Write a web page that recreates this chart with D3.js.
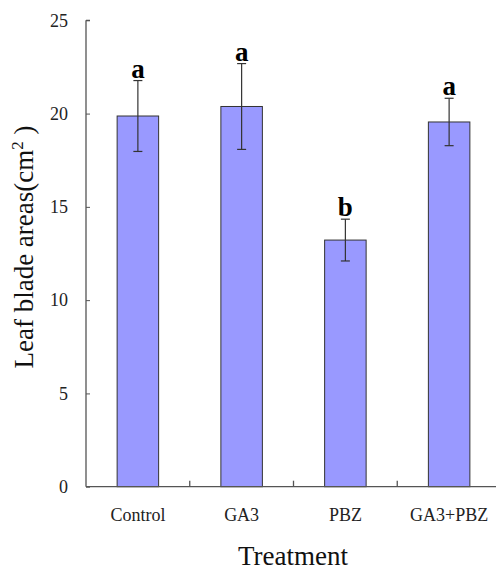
<!DOCTYPE html>
<html>
<head>
<meta charset="utf-8">
<script src="https://cdn.jsdelivr.net/npm/d3@7"></script>
<style>
  body { margin: 0; background: #fff; }
  svg { display: block; font-family: "Liberation Serif", "Times New Roman", serif; }
</style>
</head>
<body>
<div id="chart"></div>
<script>
// leaf blade area by treatment
const treatments = ["Control", "GA3", "PBZ", "GA3+PBZ"];
const means = [19.87, 20.38, 13.22, 19.55];
const errors = [1.9, 2.3, 1.12, 1.27];
const letters = ["a", "a", "b", "a"];
const yTicks = [0, 5, 10, 15, 20, 25];

const width = 496;
const height = 572;
const margin = { top: 20.3, right: -5, bottom: 85.3, left: 86 };

const svg = d3.select("#chart")
    .append("svg")
    .attr("width", width)
    .attr("height", height);

const x = d3.scaleBand()
    .domain(treatments)
    .range([margin.left, width - margin.right])
    .paddingInner(0.6)
    .paddingOuter(0.3);

// band step for the between-category ticks
const step = x.step();
const x0 = margin.left;

const y = d3.scaleLinear()
    .domain([0, 25])
    .range([height - margin.bottom, margin.top]);

const data = treatments.map((t, i) => ({ t, m: means[i], e: errors[i], l: letters[i] }));

// bars
svg.selectAll("rect.bar")
    .data(data)
    .enter()
    .append("rect")
    .attr("class", "bar")
    .attr("x", d => x(d.t))
    .attr("y", d => y(d.m))
    .attr("width", x.bandwidth())
    .attr("height", d => y(0) - y(d.m))
    .attr("fill", "#9999ff")
    .attr("stroke", "#333")
    .attr("stroke-width", 1);

// error bars
const eb = svg.selectAll("g.err")
    .data(data)
    .enter()
    .append("g")
    .attr("class", "err")
    .attr("stroke", "#333")
    .attr("stroke-width", 1.2);

eb.append("line")
    .attr("x1", d => x(d.t) + x.bandwidth() / 2)
    .attr("x2", d => x(d.t) + x.bandwidth() / 2)
    .attr("y1", d => y(d.m + d.e))
    .attr("y2", d => y(d.m - d.e));

eb.selectAll("line.cap")
    .data(d => [d.m + d.e, d.m - d.e].map(v => ({ t: d.t, v })))
    .enter()
    .append("line")
    .attr("class", "cap")
    .attr("x1", d => x(d.t) + x.bandwidth() / 2 - 4.5)
    .attr("x2", d => x(d.t) + x.bandwidth() / 2 + 4.5)
    .attr("y1", d => y(d.v))
    .attr("y2", d => y(d.v));

// significance letters
svg.selectAll("text.sig")
    .data(data)
    .enter()
    .append("text")
    .attr("class", "sig")
    .attr("x", d => x(d.t) + x.bandwidth() / 2)
    .attr("y", d => y(d.m + d.e) - 3)
    .attr("text-anchor", "middle")
    .attr("font-size", 27)
    .attr("font-weight", "bold")
    .attr("fill", "#000")
    .text(d => d.l);

// Y axis, ticks pointing inward
const yAxis = svg.append("g")
    .attr("transform", `translate(${margin.left},0)`)
    .call(d3.axisRight(y).tickValues(yTicks).tickSize(4).tickFormat(d3.format("d")))
    .attr("font-family", "Liberation Serif, serif");
yAxis.select(".domain").attr("d", `M0,${y(25)}H4M0,${y(25)}V${y(0)}`);
yAxis.selectAll("line").attr("stroke", "#555");
yAxis.select(".domain").attr("stroke", "#555").attr("stroke-width", 1.3);
yAxis.selectAll("text")
    .attr("x", -18)
    .attr("text-anchor", "end")
    .attr("font-size", 18)
    .attr("fill", "#222");

// X axis with ticks between categories (pointing up)
const xAxis = svg.append("g")
    .attr("transform", `translate(0,${y(0)})`)
    .call(d3.axisBottom(x).tickSize(0).tickPadding(22))
    .attr("font-family", "Liberation Serif, serif");
xAxis.select(".domain").attr("d", `M${x0},0H${width}`).attr("stroke", "#555").attr("stroke-width", 1.3);
xAxis.selectAll("text")
    .attr("font-size", 18)
    .attr("fill", "#222");

svg.append("g")
    .selectAll("line")
    .data(treatments.slice(1))
    .enter()
    .append("line")
    .attr("x1", d => x(d) - step * 0.3)
    .attr("x2", d => x(d) - step * 0.3)
    .attr("y1", y(0))
    .attr("y2", y(0) - 6)
    .attr("stroke", "#555")
    .attr("stroke-width", 1.3);

// axis titles
svg.append("text")
    .attr("x", 293)
    .attr("y", 565)
    .attr("text-anchor", "middle")
    .attr("font-size", 27)
    .attr("fill", "#111")
    .text("Treatment");

const yl = svg.append("text")
    .attr("transform", "translate(33,247) rotate(-90)")
    .attr("text-anchor", "middle")
    .attr("font-size", 27)
    .attr("fill", "#111");
yl.append("tspan").text("Leaf blade areas(cm");
yl.append("tspan").attr("font-size", 17).attr("dy", -10).text("2");
yl.append("tspan").attr("dy", 10).text(" )");
</script>
</body>
</html>
